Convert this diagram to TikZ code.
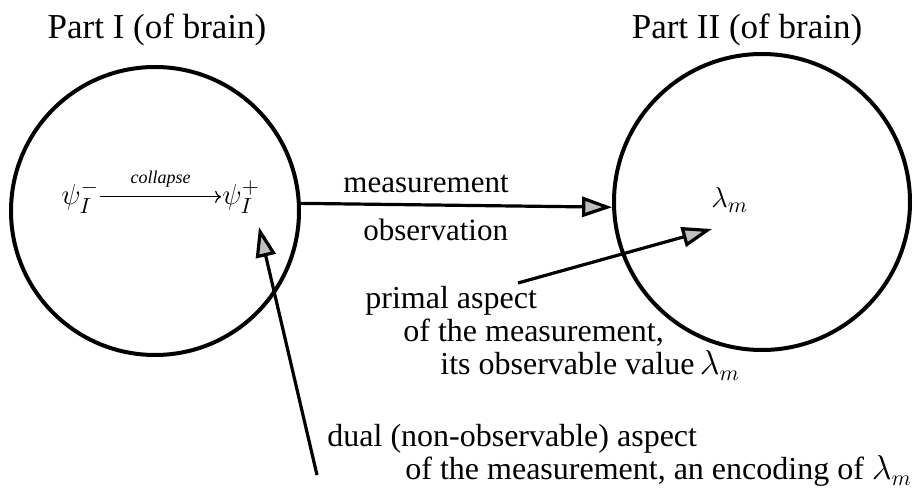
\documentclass[tikz,border=0pt]{standalone}
\usepackage{fontspec}
\setmainfont{Liberation Serif}
\usepackage{tikz}
\usetikzlibrary{arrows.meta,positioning}
\tikzset{
  brain/.style={circle,draw,line width=2pt,inner sep=0pt},
  bigarrow/.style={-{Triangle[length=15pt,width=10pt,fill=black!25]},line width=1.6pt},
  labeltext/.style={font=\fontsize{16}{16.5}\selectfont,anchor=base west,align=left,inner sep=0pt},
  titletext/.style={font=\fontsize{17.5}{20}\selectfont,anchor=base,inner sep=0pt},
  mathtext/.style={font=\fontsize{15}{17}\selectfont,anchor=base west,inner sep=0.5pt}
}
\begin{document}
\begin{tikzpicture}[x=0.5pt,y=-0.5pt]
  \useasboundingbox (0,0) rectangle (917,491);
  % the two parts
  \node[titletext] (title1) at (157,39) {Part I (of brain)};
  \node[titletext] (title2) at (747,39) {Part II (of brain)};
  \node[brain,minimum size=144pt] (part1) at (155,211) {};
  \node[brain,minimum size=148pt] (part2) at (762,202) {};

  % collapse inside part I
  \node[mathtext] (psiminus) at (60,205) {$\psi_I^-$};
  \node[mathtext] (psiplus) at (221,205) {$\psi_I^+$};
  \draw[->,line width=0.6pt] (psiminus) -- node[above=1pt,font=\fontsize{9}{10}\selectfont\itshape] (collapse) {collapse} (psiplus);
  \node[mathtext] (lambda) at (710,208) {$\lambda_m$};

  % measurement
  \draw[bigarrow] (part1.3) -- (part2.182);
  \node[labeltext,font=\fontsize{15.5}{16}\selectfont] (meas) at (343,193) {measurement};
  \node[labeltext,font=\fontsize{15.5}{16}\selectfont] (obs) at (363,241) {observation};

  % primal aspect (anchored on its last line)
  \coordinate (primtail) at (518,283);
  \coordinate (primtip) at (712,229);
  \draw[bigarrow] (primtail) -- (primtip);
  \node[labeltext] (primal) at (365,375) {primal aspect\\
    \hspace*{19pt}of the measurement,\\
    \hspace*{37.5pt}its observable value\,$\lambda_m$};

  % dual aspect
  \coordinate (dualtail) at (317,475);
  \coordinate (dualtip) at (259,227);
  \draw[bigarrow] (dualtail) -- (dualtip);
  \node[labeltext] (dual) at (327,480) {dual (non-observable) aspect\\
    \hspace*{39pt}of the measurement, an encoding of $\lambda_m$};
\end{tikzpicture}
\end{document}
